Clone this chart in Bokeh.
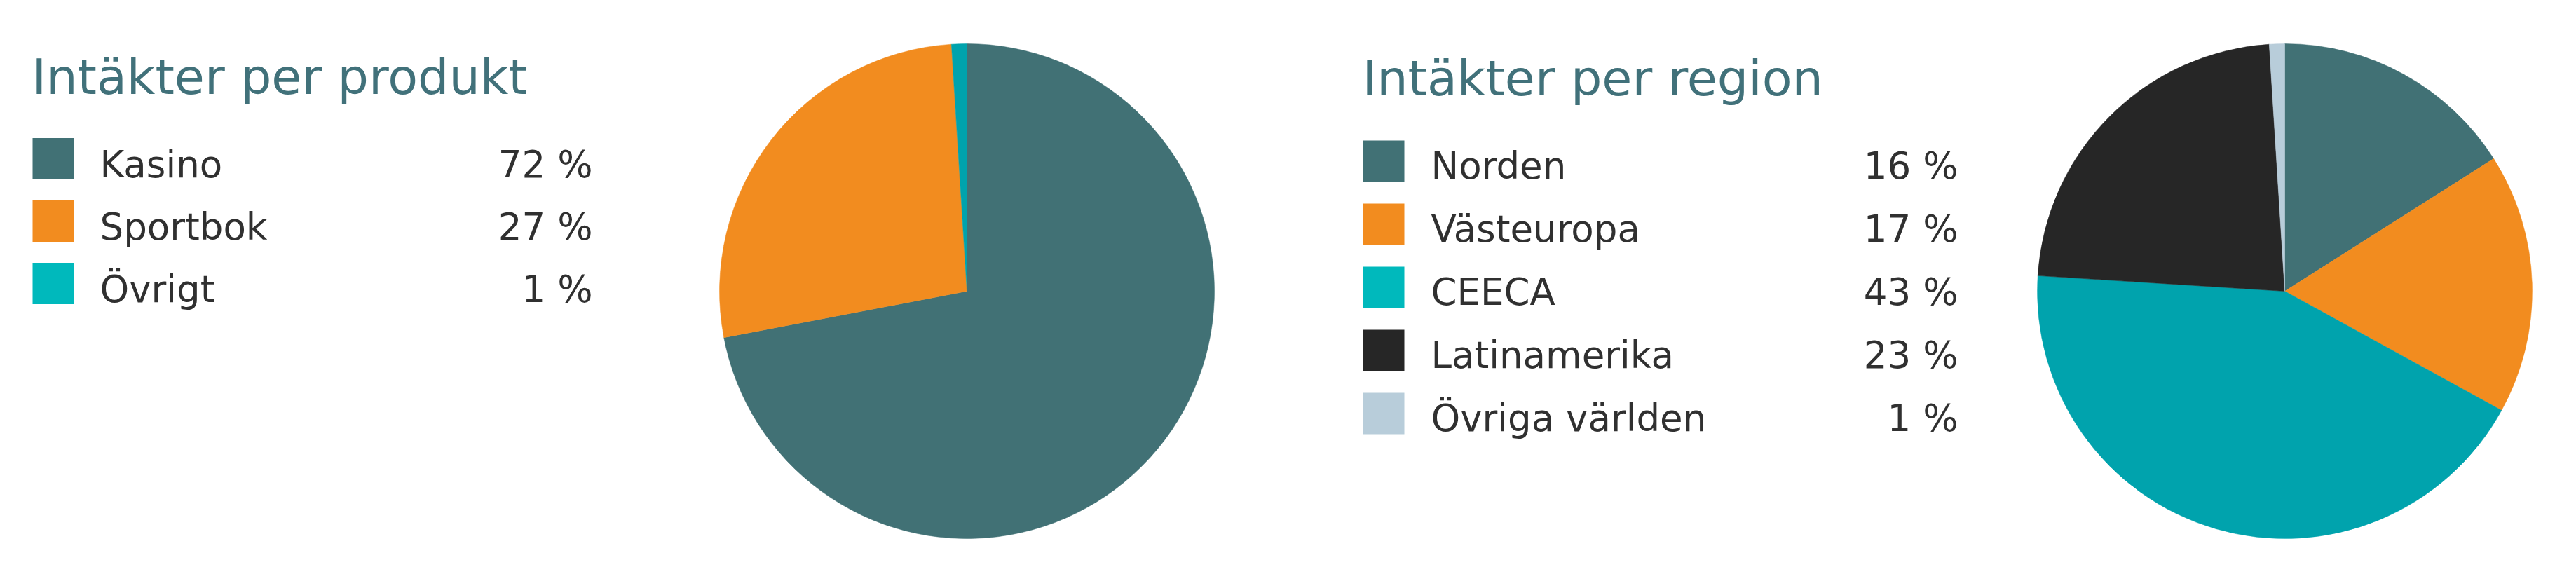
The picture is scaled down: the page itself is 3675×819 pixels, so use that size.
import math
from bokeh.plotting import figure
from bokeh.models import Range1d, ColumnDataSource
from bokeh.core.properties import value
from bokeh.embed import file_html
from bokeh.resources import INLINE

# ---- data ----
product_title = "Intäkter per produkt"
product_labels = ["Kasino", "Sportbok", "Övrigt"]
product_values = [72, 27, 1]

region_title = "Intäkter per region"
region_labels = ["Norden", "Västeuropa", "CEECA", "Latinamerika", "Övriga världen"]
region_values = [16, 17, 43, 23, 1]

# ---- style ----
product_swatch = ["#417175", "#F28C1F", "#00B9BC"]
product_slice = ["#417175", "#F28C1F", "#00A3AD"]
region_swatch = ["#417175", "#F28C1F", "#00B9BC", "#262626", "#B8CDDA"]
region_slice = ["#417175", "#F28C1F", "#00A3AD", "#262626", "#B8CDDA"]
TITLE_COLOR = "#41717A"
TEXT_COLOR = "#303030"
TITLE_FONT = value("DejaVu Sans")
LABEL_FONT = value("DejaVu Sans")

W, H = 3659, 803

def fx(sx):
    return sx

def fy(sy):
    return H - sy

p = figure(width=W, height=H, output_backend="svg", toolbar_location=None,
           x_range=Range1d(0, W), y_range=Range1d(0, H), min_border=0)
p.axis.visible = False
p.grid.visible = False
p.outline_line_color = None
p.background_fill_color = "white"
p.border_fill_color = "white"


def panel(title, labels, values, swatch, slices, title_x, title_y, sq_x, first_cy, step,
          label_x, label_dy, val_right, pie_cx, pie_cy, radius):
    n = len(labels)
    p.text(x=[fx(title_x)], y=[fy(title_y)], text=[title], text_font=TITLE_FONT,
           text_font_size="70px", text_color=TITLE_COLOR, text_baseline="alphabetic",
           text_align="left")
    cys = [first_cy + i * step for i in range(n)]
    src = ColumnDataSource(dict(
        sx=[fx(sq_x + 29.5)] * n,
        sy=[fy(c) for c in cys],
        lx=[fx(label_x)] * n,
        vx=[fx(val_right)] * n,
        ty=[fy(c + label_dy) for c in cys],
        label=labels,
        val=[f"{v} %" for v in values],
        color=swatch,
    ))
    p.rect(x="sx", y="sy", width=59, height=59, fill_color="color", line_color=None, source=src)
    p.text(x="lx", y="ty", text="label", text_font=LABEL_FONT, text_font_size="53px",
           text_color=TEXT_COLOR, text_baseline="alphabetic", text_align="left", source=src)
    p.text(x="vx", y="ty", text="val", text_font=LABEL_FONT, text_font_size="53px",
           text_color=TEXT_COLOR, text_baseline="alphabetic", text_align="right", source=src)

    total = float(sum(values))
    starts, ends = [], []
    cum = 0.0
    for v in values:
        starts.append(math.pi / 2 - 2 * math.pi * cum / total)
        cum += v
        ends.append(math.pi / 2 - 2 * math.pi * cum / total)
    wsrc = ColumnDataSource(dict(x=[fx(pie_cx)] * n, y=[fy(pie_cy)] * n, s=starts, e=ends,
                                 color=slices))
    p.wedge(x="x", y="y", radius=radius, start_angle="s", end_angle="e", direction="clock",
            fill_color="color", line_color="color", line_width=0.5, source=wsrc)


panel(product_title, product_labels, product_values, product_swatch, product_slice,
      title_x=45, title_y=109, sq_x=46, first_cy=226, step=89,
      label_x=142, label_dy=8, val_right=845, pie_cx=1379, pie_cy=415, radius=353)

panel(region_title, region_labels, region_values, region_swatch, region_slice,
      title_x=1943, title_y=111, sq_x=1944, first_cy=229.5, step=90,
      label_x=2041, label_dy=6, val_right=2793, pie_cx=3259, pie_cy=415, radius=353)

open("out.html", "w").write(file_html(p, INLINE))
